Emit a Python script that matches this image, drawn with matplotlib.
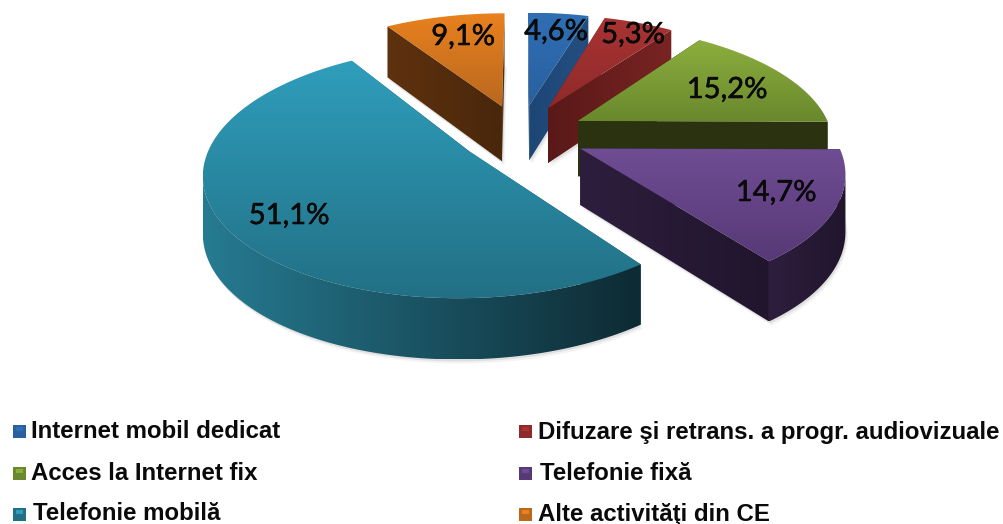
import numpy as np
import matplotlib
matplotlib.use('Agg')
import matplotlib.pyplot as plt
import matplotlib.patheffects as pe
from matplotlib.colors import to_rgb
from matplotlib.patches import Polygon, Rectangle

# Chart data, clockwise from 12 o'clock
names = ['Internet mobil dedicat', 'Difuzare şi retrans. a progr. audiovizuale',
         'Acces la Internet fix', 'Telefonie fixă', 'Telefonie mobilă', 'Alte activităţi din CE']
values = [4.6, 5.3, 15.2, 14.7, 51.1, 9.1]

# Colours: top gradient (back, front), wall gradient (left, right)
top_colors = [('#2f6fb4', '#29609f'), ('#aa3333', '#8e2a2a'), ('#8bae3e', '#6a882d'),
              ('#6f4d94', '#573976'), ('#2f9ebc', '#227085'), ('#e9811f', '#b9681e')]
wall_colors = [('#1d4675', '#234f80'), ('#591917', '#792423'), ('#2b3310', '#2c3210'),
               ('#2e1e3e', '#21152d'), ('#267b92', '#0e2a33'), ('#5f320f', '#49270b')]

# Where the labels sit and where the legend goes
label_pos = [(556, 32), (633, 35), (727, 90), (776, 193), (289, 216), (463, 37)]
legend_pos = [(31, 432), (538, 432), (31, 474), (540, 474), (33, 514), (538, 514)]
swatch_x = [13, 519, 13, 519, 13, 519]
swatch_y = [425, 425, 467, 467, 508, 508]

# Camera for the tilted disc
X0, Y0 = 520, 134.5
A, B, K = 254.5, 117, 0.165
explode = [0.26, 0.26, 0.26, 0.26, 0.24, 0.26]


def project(u, v):
    w = 1 + K * v
    return X0 + A * u / w, Y0 - B * v / w


def drop(v):
    # wall height, a bit taller toward the viewer
    w = 1 + K * v
    return 56 * (1 - 0.5 * (w - 1))


def fill_gradient(px, py, c1, c2, vertical):
    # polygon filled through a clipped image
    global zo
    c1, c2 = np.array(to_rgb(c1)), np.array(to_rgb(c2))
    t = np.linspace(0, 1, 256)
    if vertical:
        grad = t[:, None, None] * (c2 - c1) + c1
    else:
        grad = t[None, :, None] * (c2 - c1) + c1
    poly = Polygon(np.c_[px, py], closed=True, fc='none', ec='none', zorder=zo)
    ax.add_patch(poly)
    im = ax.imshow(grad, extent=[px.min(), px.max(), py.max(), py.min()], aspect='auto',
                   interpolation='bilinear', zorder=zo)
    im.set_clip_path(poly)
    zo += 1


def radial_wall(cu, cv, ru, rv, c1, c2):
    x, y = project(np.array([cu, ru]), np.array([cv, rv]))
    d = drop(np.array([cv, rv]))
    fill_gradient(np.r_[x, x[::-1]], np.r_[y, (y + d)[::-1]], c1, c2, False)


fig = plt.figure(figsize=(10.04, 5.24), dpi=100)
ax = fig.add_axes([0, 0, 1, 1])

total = sum(values)
edges = np.cumsum([0] + values) / total * 2 * np.pi
draw_order = [5, 0, 1, 2, 3, 4]
zo = 2

for i in draw_order:
    a0, a1 = edges[i], edges[i + 1]
    mid = (a0 + a1) / 2
    cu, cv = explode[i] * np.sin(mid), explode[i] * np.cos(mid)
    th = np.linspace(a0, a1, 160)
    ru, rv = cu + np.sin(th), cv + np.cos(th)
    rx, ry = project(ru, rv)
    tx, ty = project(cu, cv)

    # soft shadow under the walls
    sx = np.r_[tx, rx]
    sy = np.r_[ty + drop(cv), ry + drop(rv)]
    for off, al in [(4, 0.07), (2, 0.12)]:
        ax.add_patch(Polygon(np.c_[sx + off * 0.6, sy + off], closed=True, fc='#555555',
                             ec='none', alpha=al, zorder=zo))
    zo += 1

    # radial sides, then the outer rim facing the viewer
    radial_wall(cu, cv, ru[0], rv[0], *wall_colors[i])
    radial_wall(cu, cv, ru[-1], rv[-1], *wall_colors[i])
    near = np.where(np.cos(th) <= 0.05)[0]
    if len(near) > 1:
        # only the stretch between the left and right extremes of the rim shows
        j0 = near[np.argmax(rx[near])]
        j1 = near[np.argmin(rx[near])]
        if j1 > j0:
            bx, by, bv = rx[j0:j1 + 1], ry[j0:j1 + 1], rv[j0:j1 + 1]
            fill_gradient(np.r_[bx, bx[::-1]], np.r_[by, (by + drop(bv))[::-1]],
                          wall_colors[i][0], wall_colors[i][1], False)

    # top face with vertical gradient
    fill_gradient(np.r_[tx, rx], np.r_[ty, ry], top_colors[i][0], top_colors[i][1], True)

ax.set_xlim(0, 1004)
ax.set_ylim(524, 0)
ax.axis('off')

# Data labels
for val, (x, y) in zip(values, label_pos):
    ax.text(x, y, f'{val:.1f}'.replace('.', ',') + '%', ha='center', va='center',
            fontsize=21, family='Lato', color='#0a0a0a', zorder=100,
            path_effects=[pe.withStroke(linewidth=0.4, foreground='#0a0a0a')])

# Legend
for i, name in enumerate(names):
    x, y = legend_pos[i]
    ax.text(x, y, name, ha='left', va='center', fontsize=17.3, fontweight='bold',
            family='Liberation Sans', color='#0a0a0a', zorder=100)
    ax.add_patch(Rectangle((swatch_x[i], swatch_y[i]), 13, 13, fc=top_colors[i][1], ec='none', zorder=100))
    ax.add_patch(Rectangle((swatch_x[i] + 3, swatch_y[i] + 2), 7, 4, fc=top_colors[i][0], ec='none', zorder=101))

fig.savefig('out.png', dpi=100)
